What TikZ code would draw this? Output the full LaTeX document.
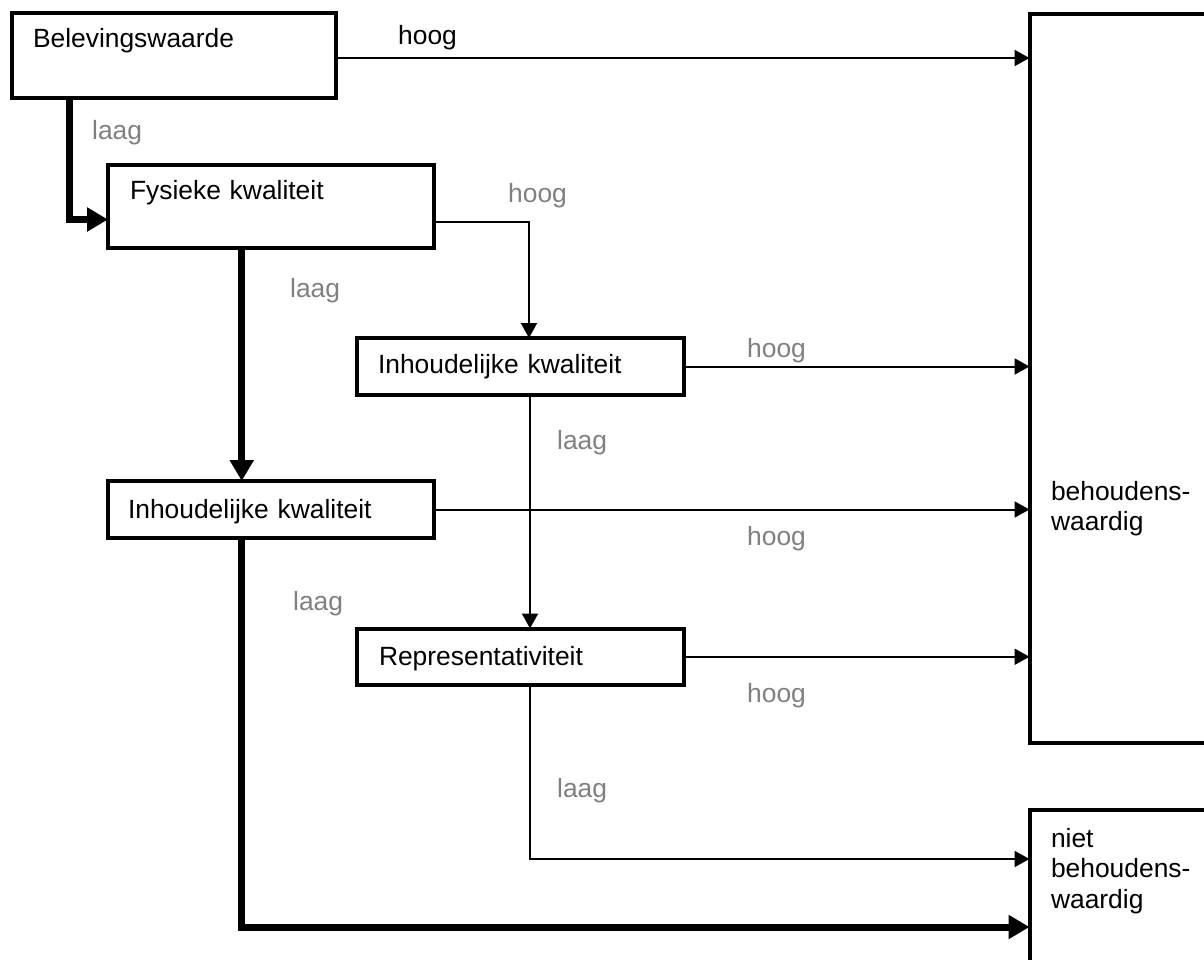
\documentclass[tikz,border=0pt]{standalone}
\usepackage{fontspec}
\setmainfont{Liberation Sans}
\usetikzlibrary{arrows.meta}
\definecolor{keuzegrijs}{RGB}{128,128,128}
\tikzset{blok/.style={draw, line width=4pt, anchor=north west, inner ysep=0pt, outer sep=0pt, align=left, font=\fontsize{26.4}{30.5}\selectfont},
  pijl/.style={line width=2pt, -{Triangle[length=15pt,width=16pt]}},
  dikpijl/.style={line width=7pt, -{Triangle[length=21pt,width=23pt]}},
  keuze/.style={anchor=base west, inner sep=0pt, text=keuzegrijs, font=\fontsize{26.4}{30.5}\selectfont}}

\begin{document}
\begin{tikzpicture}[x=1pt,y=-1pt]
  \useasboundingbox (0,0) rectangle (1204,960);
  % blokken
  \node[blok, inner xsep=21.5pt, text width=281.5pt, text height=35pt, text depth=50pt] (bel) at (11.5,13) {Belevingswaarde};
  \node[blok, inner xsep=22pt, text width=281.5pt, text height=35pt, text depth=48pt] (fys) at (108,165) {Fysieke kwaliteit};
  \node[blok, inner xsep=21.5pt, text width=284pt, text height=35pt, text depth=22pt] (inhR) at (356.5,338) {Inhoudelijke kwaliteit};
  \node[blok, inner xsep=20pt, text width=285.5pt, text height=37pt, text depth=20pt] (inhL) at (108,481) {Inhoudelijke kwaliteit};
  \node[blok, inner xsep=22.5pt, text width=282pt, text height=36.5pt, text depth=20pt] (repr) at (356.5,628.5) {Representativiteit};
  \node[blok, inner xsep=21.5pt, text width=142.5pt, text height=486pt, text depth=242.5pt] (beh) at (1029.5,14) {behoudens-\\waardig};
  \node[blok, inner xsep=21.5pt, text width=142.5pt, text height=37pt, text depth=133pt] (niet) at (1029.5,810) {niet\\behoudens-\\waardig};

  % hoog
  \draw[pijl] ([yshift=-2.5pt]bel.east) -- ([yshift=-2.5pt]bel.east -| beh.west);
  \draw[pijl] ([yshift=-15.5pt]fys.east) -| ([xshift=9pt]inhR.north);
  \draw[pijl] (inhR.east) -- (inhR.east -| beh.west);
  \draw[pijl] (inhL.east) -- (inhL.east -| beh.west);
  \draw[pijl] (repr.east) -- (repr.east -| beh.west);
  % laag
  \draw[dikpijl] ([xshift=-104.75pt]bel.south) |- ([yshift=-13pt]fys.west);
  \draw[dikpijl] ([xshift=-29pt]fys.south) -- ([xshift=-29pt]inhL.north);
  \draw[pijl] ([xshift=10pt]inhR.south) -- ([xshift=10pt]repr.north);
  \draw[dikpijl] ([xshift=-29pt]inhL.south) |- ([yshift=-32pt]niet.west);
  \draw[pijl] ([xshift=10pt]repr.south) |- ([yshift=36pt]niet.west);

  % labels
  \node[keuze, text=black] (h0) at (398,45) {hoog};
  \node[keuze] (l1) at (92,140) {laag};
  \node[keuze] (h1) at (508,203) {hoog};
  \node[keuze] (l2) at (290,297) {laag};
  \node[keuze] (h2) at (747,357) {hoog};
  \node[keuze] (l3) at (557,449) {laag};
  \node[keuze] (h3) at (747,545) {hoog};
  \node[keuze] (l4) at (293,610) {laag};
  \node[keuze] (h4) at (747,702) {hoog};
  \node[keuze] (l5) at (557,797) {laag};
\end{tikzpicture}
\end{document}
